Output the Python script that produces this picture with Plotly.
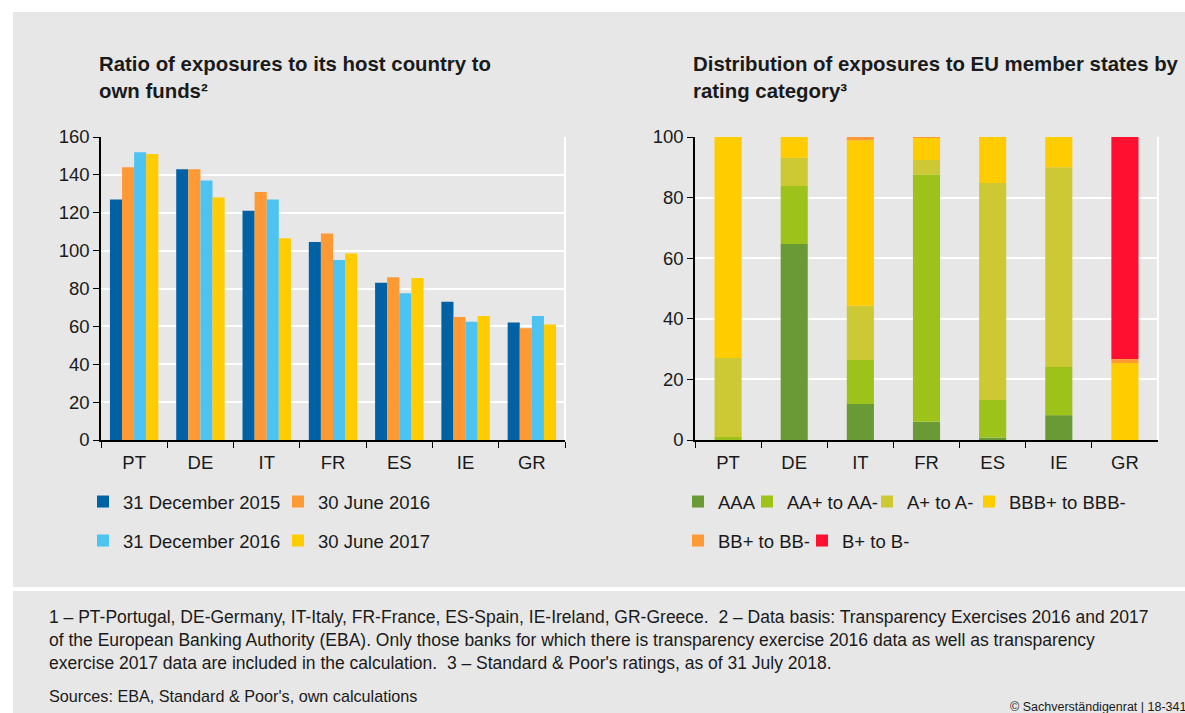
import plotly.graph_objects as go

W, H = 1185, 713

countries = ["PT", "DE", "IT", "FR", "ES", "IE", "GR"]

# Left chart: ratio of exposures to host country to own funds
dec2015 = [127, 143, 121, 104.5, 83, 73, 62]
jun2016 = [144, 143, 131, 109, 86, 65, 59]
dec2016 = [152, 137, 127, 95, 77.5, 62.5, 65.5]
jun2017 = [151, 128, 106.5, 98.5, 85.5, 65.5, 61]
left_names = ["31 December 2015", "30 June 2016", "31 December 2016", "30 June 2017"]

# Right chart: distribution by rating category (%)
aaa = [0, 64.7, 11.9, 6.0, 0.8, 8.2, 0]
aa = [1.0, 19.1, 14.5, 81.6, 12.4, 15.9, 0]
a_ = [26.1, 9.3, 17.9, 4.8, 71.6, 65.9, 0]
bbb = [72.9, 6.9, 54.6, 7.4, 15.2, 10.0, 25.4]
bb = [0, 0, 1.1, 0.2, 0, 0, 1.3]
b_ = [0, 0, 0, 0, 0, 0, 73.3]
right_names = ["AAA", "AA+ to AA-", "A+ to A-", "BBB+ to BBB-", "BB+ to BB-", "B+ to B-"]

left_colors = ["#0062a4", "#ff9933", "#4dc3f2", "#ffcc00"]
right_colors = ["#6a9a35", "#9dc31b", "#cdc934", "#ffcc00", "#ff9933", "#ff1030"]

FONT = "Liberation Sans"
TXT = "#1a1a1a"
BG = "#e7e7e7"


def px_x(p):
    return p / W


def px_y(p):
    return 1 - p / H


fig = go.Figure()

# legend placement (pixel left x, pixel centre y) for each entry
left_leg_pos = [(83, 502), (278, 502), (83, 541), (278, 541)]
right_leg_pos = [(678, 502), (747, 502), (867, 502), (969, 502), (678, 541), (802, 541)]

left_series = [dec2015, jun2016, dec2016, jun2017]
legend_layouts = {}
idx = 1
for name, vals, col, pos in zip(left_names, left_series, left_colors, left_leg_pos):
    key = "legend" if idx == 1 else f"legend{idx}"
    fig.add_trace(go.Bar(x=countries, y=vals, name=name, marker=dict(color=col, line=dict(width=0)),
                         xaxis="x", yaxis="y", legend=key, showlegend=True))
    legend_layouts[key] = pos
    idx += 1

right_series = [aaa, aa, a_, bbb, bb, b_]
base = [0.0] * len(countries)
for name, vals, col, pos in zip(right_names, right_series, right_colors, right_leg_pos):
    key = f"legend{idx}"
    fig.add_trace(go.Bar(x=countries, y=vals, base=list(base), name=name, offsetgroup="stack",
                         width=0.41, marker=dict(color=col, line=dict(width=0)),
                         xaxis="x2", yaxis="y2", legend=key, showlegend=True))
    legend_layouts[key] = pos
    base = [bv + v for bv, v in zip(base, vals)]
    idx += 1

y0, y1 = px_y(440), px_y(137)

axis_common = dict(showline=True, linecolor="black", linewidth=1.5, ticks="outside", ticklen=6,
                   tickcolor="black", tickwidth=1.2, automargin=False,
                   tickfont=dict(family=FONT, size=18.5, color=TXT))

fig.update_layout(
    width=W, height=H, autosize=False,
    margin=dict(l=0, r=0, t=0, b=0, pad=0, autoexpand=False),
    paper_bgcolor="white", plot_bgcolor=BG,
    showlegend=True,
    barmode="group", bargap=0.27, bargroupgap=0,
    font=dict(family=FONT, color=TXT),
    xaxis=dict(domain=[px_x(101), px_x(565)], anchor="y", type="category", tickson="boundaries",
               showgrid=False, ticklabelstandoff=5, **axis_common),
    yaxis=dict(domain=[y0, y1], anchor="x", range=[0, 160], dtick=20, showgrid=True,
               gridcolor="white", gridwidth=2, zeroline=False, **axis_common),
    xaxis2=dict(domain=[px_x(695), px_x(1158)], anchor="y2", type="category", tickson="boundaries",
                showgrid=False, ticklabelstandoff=5, **axis_common),
    yaxis2=dict(domain=[y0, y1], anchor="x2", range=[0, 100], dtick=20, showgrid=True,
                gridcolor="white", gridwidth=2, zeroline=False, **axis_common),
)

leg_common = dict(orientation="h", xanchor="left", yanchor="middle", bgcolor="rgba(0,0,0,0)",
                  font=dict(family=FONT, size=18.5, color=TXT), itemwidth=30, traceorder="normal",
                  visible=True)
fig.update_layout({key: dict(x=px_x(p[0]), y=px_y(p[1]), **leg_common) for key, p in legend_layouts.items()})

shapes = [
    dict(type="rect", xref="paper", yref="paper", x0=px_x(13), x1=1.01, y0=px_y(587), y1=px_y(12),
         fillcolor=BG, line=dict(width=0), layer="below"),
    dict(type="rect", xref="paper", yref="paper", x0=px_x(13), x1=1.01, y0=-0.01, y1=px_y(591),
         fillcolor=BG, line=dict(width=0), layer="below"),
    dict(type="line", xref="x domain", yref="y domain", x0=1, x1=1, y0=0, y1=1,
         line=dict(color="white", width=2)),
    dict(type="line", xref="x2 domain", yref="y2 domain", x0=1, x1=1, y0=0, y1=1,
         line=dict(color="white", width=2)),
]
fig.update_layout(shapes=shapes)

annotations = [
    dict(text="Ratio of exposures to its host country to<br>own funds²", x=px_x(97), y=px_y(51),
         xanchor="left", yanchor="top", align="left",
         font=dict(family=FONT, size=20.4, color=TXT, weight="bold")),
    dict(text="Distribution of exposures to EU member states by<br>rating category³", x=px_x(691), y=px_y(51),
         xanchor="left", yanchor="top", align="left",
         font=dict(family=FONT, size=20.4, color=TXT, weight="bold")),
    dict(text="1 – PT-Portugal, DE-Germany, IT-Italy, FR-France, ES-Spain, IE-Ireland, GR-Greece.  2 – Data basis: Transparency Exercises 2016 and 2017<br>"
              "of the European Banking Authority (EBA). Only those banks for which there is transparency exercise 2016 data as well as transparency<br>"
              "exercise 2017 data are included in the calculation.  3 – Standard & Poor's ratings, as of 31 July 2018.",
         x=px_x(47), y=px_y(605), xanchor="left", yanchor="top", align="left",
         font=dict(family=FONT, size=17.5, color=TXT)),
    dict(text="Sources: EBA, Standard & Poor's, own calculations", x=px_x(47), y=px_y(696),
         xanchor="left", yanchor="middle", align="left",
         font=dict(family=FONT, size=16.2, color=TXT)),
    dict(text="© Sachverständigenrat | 18-341", x=px_x(1189), y=px_y(707),
         xanchor="right", yanchor="middle", align="right",
         font=dict(family=FONT, size=12.5, color=TXT)),
]
for an in annotations:
    an.update(xref="paper", yref="paper", showarrow=False)
fig.update_layout(annotations=annotations)

post = (
    "document.documentElement.style.margin='0';document.documentElement.style.padding='0';"
    "document.documentElement.style.overflow='hidden';"
    "document.body.style.margin='0';document.body.style.padding='0';document.body.style.overflow='hidden';"
    "var gd=document.getElementById('{plot_id}');"
    "gd.style.position='fixed';gd.style.top='0px';gd.style.left='0px';"
)
fig.write_html("out.html", config={"displayModeBar": False}, post_script=post)
